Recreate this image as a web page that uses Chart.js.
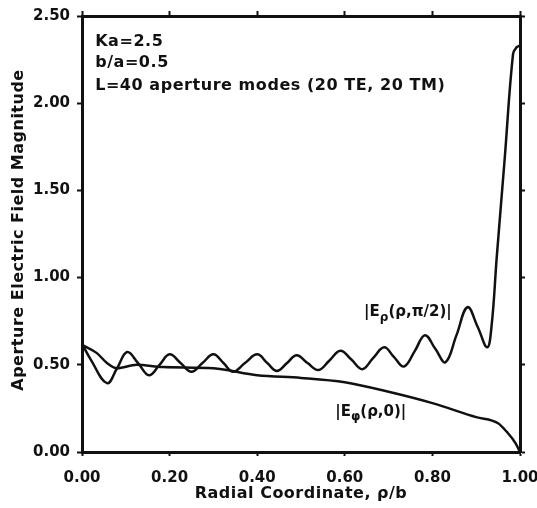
<!DOCTYPE html>
<html>
<head>
<meta charset="utf-8">
<script src="https://cdn.jsdelivr.net/npm/chart.js@4.4.1/dist/chart.umd.min.js"></script>
<style>
  body { margin: 0; background: #fff; }
  #wrap { width: 537px; height: 508px; position: relative; }
</style>
</head>
<body>
<div id="wrap"><canvas id="chart"></canvas></div>
<script>
// radial coordinate rho/b and the two field magnitudes
const rhoX = [0, 0.02, 0.057, 0.08, 0.103, 0.128, 0.153, 0.177, 0.20, 0.225, 0.25, 0.275, 0.30, 0.323, 0.345,
    0.372, 0.40, 0.423, 0.445, 0.468, 0.49, 0.515, 0.54, 0.565, 0.59, 0.615, 0.64, 0.665, 0.69, 0.712, 0.735,
    0.76, 0.783, 0.807, 0.83, 0.855, 0.88, 0.903, 0.925, 0.935, 0.947, 0.965, 0.984, 0.992, 1.0];
const eRho = [0.62, 0.53, 0.395, 0.48, 0.573, 0.51, 0.44, 0.50, 0.56, 0.51, 0.46, 0.51, 0.56, 0.51, 0.46,
    0.51, 0.56, 0.51, 0.465, 0.51, 0.555, 0.51, 0.47, 0.525, 0.58, 0.53, 0.475, 0.54, 0.60, 0.545, 0.49,
    0.58, 0.67, 0.59, 0.515, 0.67, 0.83, 0.72, 0.60, 0.72, 1.12, 1.68, 2.28, 2.32, 2.33];

const phiX = [0, 0.034, 0.057, 0.08, 0.125, 0.185, 0.30, 0.40, 0.50, 0.60, 0.70, 0.80, 0.90, 0.95, 0.97, 0.99, 1.0];
const ePhi = [0.615, 0.567, 0.51, 0.48, 0.50, 0.487, 0.48, 0.44, 0.425, 0.40, 0.345, 0.28, 0.20, 0.165, 0.115, 0.05, 0.0];

const xTicks = [0, 0.2, 0.4, 0.6, 0.8, 1.0];
const yTicks = [0, 0.5, 1.0, 1.5, 2.0, 2.5];

const infoLines = ['Ka=2.5', 'b/a=0.5', 'L=40 aperture modes (20 TE, 20 TM)'];

const ctx = document.getElementById('chart').getContext('2d');
const FONT = '"DejaVu Sans", sans-serif';

function pts(xs, ys) {
    return xs.map((x, i) => ({ x: x, y: ys[i] }));
}

// text that is not part of the axes: parameters, curve labels, axis titles
const textPlugin = {
    id: 'texts',
    afterDraw(chart) {
        const c = chart.ctx;
        const xs = chart.scales.x, ys = chart.scales.y;
        const area = chart.chartArea;
        c.save();
        c.fillStyle = '#111';
        c.textBaseline = 'middle';
        c.textAlign = 'left';
        c.letterSpacing = '0.55px';
        c.font = 'bold 16px ' + FONT;
        const infoY = [2.35, 2.23, 2.10];
        infoLines.forEach((t, i) => {
            c.fillText(t, xs.getPixelForValue(0.03), ys.getPixelForValue(infoY[i]));
        });
        c.letterSpacing = '0px';

        function subLabel(x, y, pre, sub, post) {
            let px = xs.getPixelForValue(x), py = ys.getPixelForValue(y);
            c.font = 'bold 15px ' + FONT;
            c.fillText(pre, px, py);
            px += c.measureText(pre).width;
            c.font = 'bold 12px ' + FONT;
            c.fillText(sub, px, py + 5);
            px += c.measureText(sub).width;
            c.font = 'bold 15px ' + FONT;
            c.fillText(post, px, py);
        }
        subLabel(0.644, 0.80, '|E', 'ρ', '(ρ,π/2)|');
        subLabel(0.578, 0.23, '|E', 'φ', '(ρ,0)|');

        // axis titles
        c.font = 'bold 16px ' + FONT;
        c.letterSpacing = '0.5px';
        c.textAlign = 'center';
        c.fillText('Radial Coordinate, ρ/b', (area.left + area.right) / 2, 494);
        c.translate(19, 230);
        c.rotate(-Math.PI / 2);
        c.fillText('Aperture Electric Field Magnitude', 0, 0);
        c.restore();
    }
};

const axisCommon = {
    type: 'linear',
    border: { display: true, width: 3, color: '#111' },
    grid: { drawOnChartArea: false, drawTicks: true, tickLength: 5, tickWidth: 2, tickColor: '#111' }
};

// fixed box sizes so the plot frame lands where it is in the original
function fixBox(w, h) {
    return function (s) {
        if (w !== null) s.width = w;
        if (h !== null) s.height = h;
        s.paddingLeft = 0; s.paddingRight = 0;
        s.paddingTop = 0; s.paddingBottom = 0;
    };
}

new Chart(ctx, {
    type: 'line',
    data: {
        datasets: [{
            label: 'Erho',
            data: pts(rhoX, eRho),
            borderColor: '#111',
            borderWidth: 2.5,
            pointRadius: 0,
            tension: 0.4,
            fill: false
        }, {
            label: 'Ephi',
            data: pts(phiX, ePhi),
            borderColor: '#111',
            borderWidth: 2.5,
            pointRadius: 0,
            cubicInterpolationMode: 'monotone',
            fill: false
        }]
    },
    options: {
        responsive: true,
        maintainAspectRatio: false,
        animation: false,
        layout: { padding: 0 },
        plugins: { legend: { display: false }, tooltip: { enabled: false } },
        scales: {
            x: {
                ...axisCommon,
                position: 'bottom',
                min: 0, max: 1,
                grid: { ...axisCommon.grid, tickLength: 4 },
                afterBuildTicks(s) { s.ticks = xTicks.map(v => ({ value: v })); },
                afterFit: fixBox(null, 56),
                ticks: {
                    padding: 13, color: '#111',
                    font: { family: FONT, size: 15, weight: 'bold' },
                    maxRotation: 0,
                    callback: v => v.toFixed(2)
                }
            },
            y: {
                ...axisCommon,
                position: 'left',
                min: 0, max: 2.5,
                afterBuildTicks(s) { s.ticks = yTicks.map(v => ({ value: v })); },
                afterFit: fixBox(82, null),
                ticks: {
                    padding: 7, color: '#111',
                    font: { family: FONT, size: 15, weight: 'bold' },
                    callback: v => v.toFixed(2)
                }
            },
            xTop: {
                ...axisCommon,
                position: 'top',
                min: 0, max: 1,
                afterBuildTicks(s) { s.ticks = xTicks.map(v => ({ value: v })); },
                afterFit: fixBox(null, 16),
                ticks: { display: false }
            },
            yRight: {
                ...axisCommon,
                position: 'right',
                min: 0, max: 2.5,
                afterBuildTicks(s) { s.ticks = yTicks.map(v => ({ value: v })); },
                afterFit: fixBox(17, null),
                ticks: { display: false }
            }
        }
    },
    plugins: [textPlugin]
});
</script>
</body>
</html>
